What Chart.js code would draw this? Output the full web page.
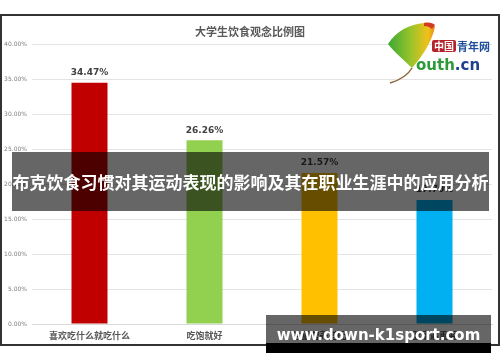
<!DOCTYPE html>
<html>
<head>
<meta charset="utf-8">
<script src="https://cdn.jsdelivr.net/npm/chart.js@4"></script>
<style>
  html, body { margin: 0; padding: 0; background: #fff; }
  #wrap { position: relative; width: 500px; height: 362px; overflow: hidden; }
  #frame { position: absolute; left: 0; top: 14px; width: 496px; height: 328px; border: 2px solid #333; }
  #title { position: absolute; left: 0; width: 500px; top: 23px; text-align: center;
    font: bold 11px "Noto Sans CJK SC", sans-serif; color: #595959; }
  #banner { position: absolute; left: 12px; top: 152px; width: 477px; height: 59px;
    background: rgba(0,0,0,0.6); color: #fff; text-align: center;
    font: bold 17px/59px "Noto Sans CJK SC", sans-serif; white-space: nowrap; }
  #mark { position: absolute; left: 266px; top: 315px; width: 225px; height: 28px;
    background: rgba(0,0,0,0.6); }
  #markBar { position: absolute; left: 266px; top: 343px; width: 225px; height: 10px; background: #000; }
  #markText { position: absolute; left: 266px; top: 315px; width: 225px; height: 40px;
    color: #fff; text-align: center; font: bold 15px/41px "DejaVu Sans", sans-serif; white-space: nowrap; }
  #logo { position: absolute; left: 384px; top: 18px; }
  canvas { position: absolute; left: 0; top: 0; }
</style>
</head>
<body>
<div id="wrap">
  <div id="frame"></div>
  <canvas id="c" width="500" height="362"></canvas>
  <div id="title">大学生饮食观念比例图</div>
  <svg id="logo" width="112" height="70" viewBox="0 0 112 70">
    <defs>
      <linearGradient id="lg" x1="0" y1="0" x2="1" y2="0">
        <stop offset="0" stop-color="#3aa935"/>
        <stop offset="0.5" stop-color="#9cc42a"/>
        <stop offset="0.85" stop-color="#f2c01a"/>
        <stop offset="1" stop-color="#e8891c"/>
      </linearGradient>
    </defs>
    <path d="M28 50 C20 42 10 34 4 26 C12 13 26 6 40 5 C46 5 50 7 51 9 C47 26 37 40 28 50 Z" fill="url(#lg)"/>
    <path d="M40 5 C45 4 49 5 51 7 L48 11 C46 9 43 8 40 8 Z" fill="#d23a22"/>
    <path d="M28 50 C24 57 16 62 6 65" stroke="#8a6a3a" stroke-width="1.5" fill="none"/>
    <rect x="48" y="22" width="24" height="12" rx="2" fill="#b4242a"/>
    <text x="60" y="32" text-anchor="middle" font-family="Noto Sans CJK SC" font-weight="bold" font-size="10" fill="#fff">中国</text>
    <text x="73" y="33" font-family="Noto Sans CJK SC" font-weight="bold" font-size="11" fill="#1f4e9c">青年网</text>
    <text x="32" y="52" font-family="DejaVu Sans" font-weight="bold" font-size="15" fill="#2e9b3a">outh<tspan fill="#1f3f8f">.cn</tspan></text>
  </svg>
  <div id="banner">布克饮食习惯对其运动表现的影响及其在职业生涯中的应用分析</div>
  <div id="mark"></div>
  <div id="markBar"></div>
  <div id="markText">www.down-k1sport.com</div>
</div>
<script>
const categories = ['喜欢吃什么就吃什么', '吃饱就好', '注重营养搭配', '健康最重要'];
const shares = [34.47, 26.26, 21.57, 17.70];
const barColors = ['#C00000', '#92D050', '#FFC000', '#00B0F0'];
const yTicks = [0, 5, 10, 15, 20, 25, 30, 35, 40];

// 柱顶数值标签
const valueLabels = {
  id: 'valueLabels',
  afterDatasetsDraw(chart) {
    const ctx = chart.ctx;
    const meta = chart.getDatasetMeta(0);
    ctx.save();
    ctx.font = 'bold 9px "DejaVu Sans", sans-serif';
    ctx.fillStyle = '#404040';
    ctx.textAlign = 'center';
    ctx.textBaseline = 'middle';
    meta.data.forEach((bar, i) => {
      ctx.fillText(shares[i].toFixed(2) + '%', bar.x, bar.y - 10);
    });
    ctx.restore();
  }
};

new Chart(document.getElementById('c'), {
  type: 'bar',
  data: {
    labels: categories,
    datasets: [{
      data: shares,
      backgroundColor: barColors,
      borderWidth: 0,
      barPercentage: 0.313,
      categoryPercentage: 1
    }]
  },
  options: {
    responsive: false,
    animation: false,
    layout: { padding: { top: 44, right: 8, bottom: 18, left: 0 } },
    plugins: { legend: { display: false }, tooltip: { enabled: false } },
    scales: {
      x: {
        grid: { display: false },
        border: { color: '#d9d9d9' },
        ticks: { color: '#595959', font: { family: 'Noto Sans CJK SC', size: 9, weight: 'bold' }, padding: -2, maxRotation: 0 },
        afterFit: s => { s.height = 20; }
      },
      y: {
        min: 0, max: 40,
        afterBuildTicks: s => { s.ticks = yTicks.map(v => ({ value: v })); },
        grid: { color: '#e4e4e4', drawTicks: false },
        border: { display: false },
        ticks: { color: '#7f7f7f', font: { family: 'DejaVu Sans', size: 6 }, padding: 5,
          callback: v => v.toFixed(2) + '%' },
        afterFit: s => { s.width = 32; }
      }
    }
  },
  plugins: [valueLabels]
});
</script>
</body>
</html>
